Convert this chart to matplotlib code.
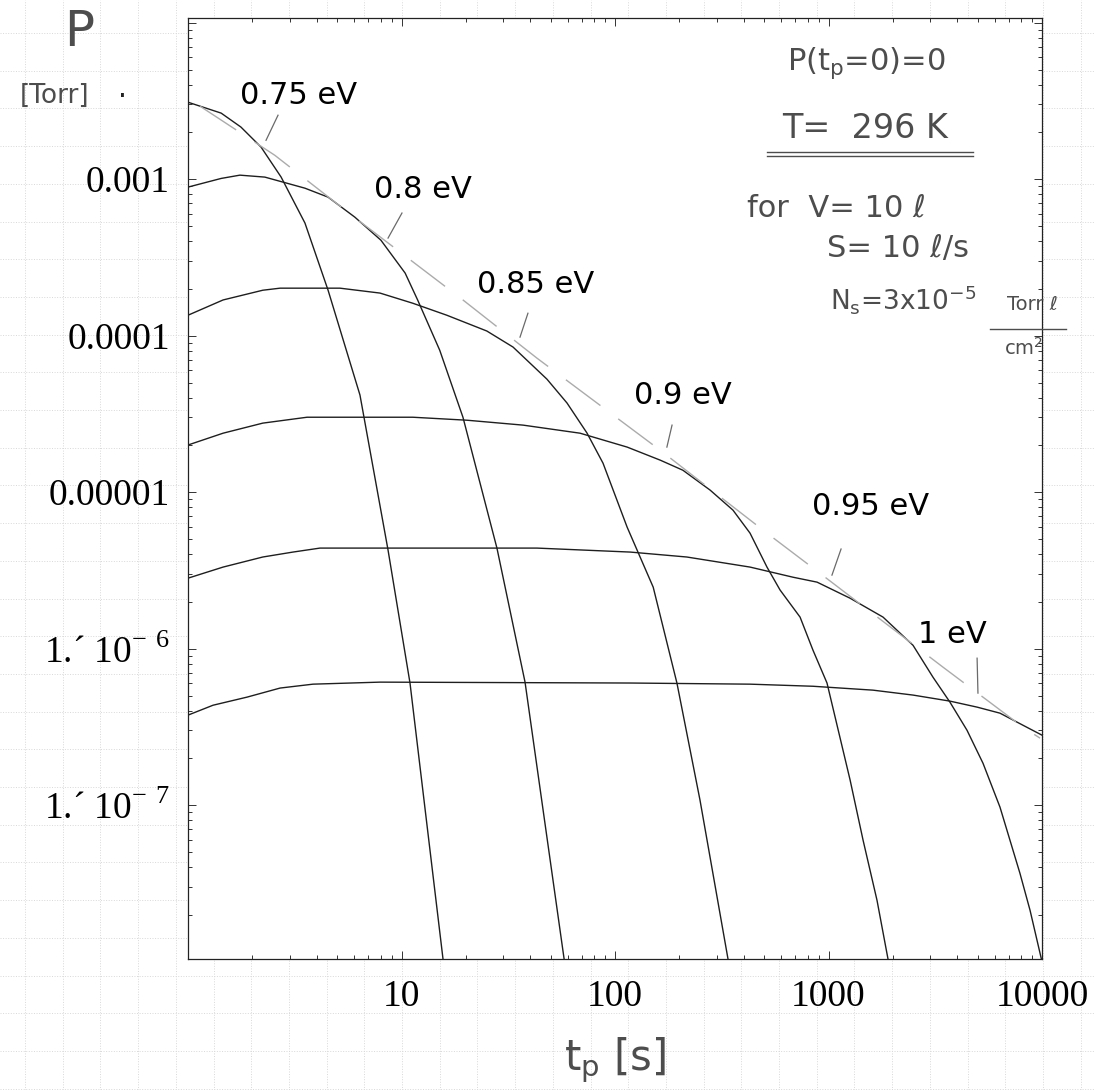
import numpy as np
import matplotlib
matplotlib.use('Agg')
import matplotlib.pyplot as plt
from matplotlib.ticker import FixedLocator, FixedFormatter, LogLocator, NullFormatter

# ------------------------------------------------------------
# data (t_p in s, P in Torr)
# ------------------------------------------------------------
t_075 = [1, 1.43, 1.77, 2.20, 2.73, 3.53, 4.53, 6.39, 8.65, 10.96, 15.7]
p_075 = [3.10e-3, 2.64e-3, 2.15e-3, 1.60e-3, 1.03e-3, 5.24e-4, 1.95e-4, 4.17e-5, 4.26e-6, 6.03e-7, 1.0e-8]

t_080 = [1, 1.43, 1.75, 2.29, 3.53, 4.53, 6.05, 8.01, 10.4, 11.9, 15.1, 19.4, 28.0, 37.9, 58.0]
p_080 = [8.89e-4, 1.01e-3, 1.06e-3, 1.03e-3, 8.75e-4, 7.67e-4, 5.71e-4, 4.07e-4, 2.51e-4,
         1.69e-4, 8.07e-5, 3.01e-5, 4.38e-6, 6.11e-7, 1.0e-8]

t_085 = [1, 1.46, 2.24, 2.70, 5.15, 7.93, 11.3, 16.3, 25.1, 33.3, 48.0, 59.6, 74.0, 87.9,
         114, 151, 195, 250, 340]
p_085 = [1.35e-4, 1.69e-4, 1.95e-4, 2.01e-4, 2.01e-4, 1.87e-4, 1.61e-4, 1.35e-4, 1.07e-4,
         8.45e-5, 5.27e-5, 3.71e-5, 2.38e-5, 1.53e-5, 5.97e-6, 2.47e-6, 6.03e-7, 1.08e-7, 1.0e-8]

t_090 = [1, 1.46, 2.24, 3.61, 11.3, 20.3, 37.1, 68.6, 114, 163, 208, 279, 357, 429, 515,
         593, 736, 846, 984, 1262, 1452, 1687, 1910]
p_090 = [2.00e-5, 2.38e-5, 2.76e-5, 3.01e-5, 3.01e-5, 2.88e-5, 2.68e-5, 2.38e-5, 1.94e-5,
         1.60e-5, 1.38e-5, 1.03e-5, 7.67e-6, 5.47e-6, 3.32e-6, 2.37e-6, 1.59e-6, 9.77e-7,
         6.03e-7, 1.45e-7, 5.97e-8, 2.47e-8, 1.0e-8]

t_095 = [1, 1.46, 2.24, 3.10, 4.15, 43.1, 118, 217, 429, 682, 884, 1262, 1801, 2489, 3086,
         3706, 4454, 5295, 6357, 7883, 8790, 10000]
p_095 = [2.82e-6, 3.32e-6, 3.85e-6, 4.14e-6, 4.39e-6, 4.39e-6, 4.14e-6, 3.85e-6, 3.32e-6,
         2.86e-6, 2.66e-6, 2.10e-6, 1.59e-6, 1.05e-6, 6.57e-7, 4.55e-7, 3.01e-7, 1.85e-7,
         9.71e-8, 3.67e-8, 2.13e-8, 1.0e-8]

t_100 = [1, 1.31, 1.89, 2.70, 3.85, 7.93, 118, 429, 846, 1616, 2489, 3706, 4966, 6357, 8147, 10000]
p_100 = [3.76e-7, 4.35e-7, 4.90e-7, 5.60e-7, 5.93e-7, 6.11e-7, 6.03e-7, 5.93e-7, 5.75e-7,
         5.43e-7, 5.05e-7, 4.62e-7, 4.23e-7, 3.87e-7, 3.24e-7, 2.80e-7]

# grey dashed envelope
t_env = [1.14, 2.55, 6.26, 19.4, 43.1, 163, 515, 912, 3436, 8147, 9790]
p_env = [2.92e-3, 1.42e-3, 5.47e-4, 1.69e-4, 7.18e-5, 1.85e-5, 5.47e-6, 3.03e-6, 7.62e-7, 3.15e-7, 2.68e-7]

curves = [(t_075, p_075), (t_080, p_080), (t_085, p_085), (t_090, p_090), (t_095, p_095), (t_100, p_100)]

# curve labels: text, label centre, pointer start, pointer end
labels = ['0.75 eV', '0.8 eV', '0.85 eV', '0.9 eV', '0.95 eV', '1 eV']
label_t = [3.31, 12.6, 42.7, 208, 1582, 3786]
label_p = [3.44e-3, 8.63e-4, 2.13e-4, 4.17e-5, 8.15e-6, 1.24e-6]
ptr_t0 = [2.64, 10.05, 39.1, 185, 1145, 4966]
ptr_p0 = [2.56e-3, 6.07e-4, 1.39e-4, 2.68e-5, 4.33e-6, 8.69e-7]
ptr_t1 = [2.32, 8.65, 35.9, 175, 1038, 5012]
ptr_p1 = [1.77e-3, 4.20e-4, 9.78e-5, 1.94e-5, 2.95e-6, 5.20e-7]

x_ticks = [1, 10, 100, 1000, 10000]
x_ticklabels = ['', '10', '100', '1000', '10000']
y_ticks = [1e-8, 1e-7, 1e-6, 1e-5, 1e-4, 1e-3, 1e-2]
y_ticklabels = ['', '1.\u00b4 10$^{\\mathregular{-\\ 7}}$', '1.\u00b4 10$^{\\mathregular{-\\ 6}}$',
                '0.00001', '0.0001', '0.001', '']

W, H = 1094, 1090
fig = plt.figure(figsize=(W / 100, H / 100), dpi=100)
fig.patch.set_facecolor('white')

# graph paper behind the print
bg = fig.add_axes([0, 0, 1, 1], zorder=-1)
bg.set_xlim(0, W)
bg.set_ylim(H, 0)
bg.axis('off')
for gx in np.arange(25, W, 37.7):
    bg.axvline(gx, color='#d8d8d8', lw=0.7, ls=':')
for gy in np.arange(33, H, 37.7):
    bg.axhline(gy, color='#d8d8d8', lw=0.7, ls=':')

ax = fig.add_axes([188 / W, (H - 959) / H, 854 / W, (959 - 18) / H])
ax.set_facecolor('white')
ax.set_xscale('log')
ax.set_yscale('log')
ax.set_xlim(1, 1e4)
ax.set_ylim(1.04e-8, 1.07e-2)

for t, p in curves:
    ax.plot(t, p, color='#1e1e1e', lw=1.0)

ax.plot(t_env, p_env, color='#ababab', lw=1.0, ls=(0, (31, 16)))

for i, lab in enumerate(labels):
    ax.text(label_t[i], label_p[i], lab, fontsize=22, family='DejaVu Sans',
            ha='center', va='center', color='black')
    ax.plot([ptr_t0[i], ptr_t1[i]], [ptr_p0[i], ptr_p1[i]], color='#6a6a6a', lw=0.9)

ax.xaxis.set_major_locator(FixedLocator(x_ticks))
ax.xaxis.set_major_formatter(FixedFormatter(x_ticklabels))
ax.yaxis.set_major_locator(FixedLocator(y_ticks))
ax.yaxis.set_major_formatter(FixedFormatter(y_ticklabels))
ax.xaxis.set_minor_locator(LogLocator(base=10, subs=np.arange(2, 10)))
ax.yaxis.set_minor_locator(LogLocator(base=10, subs=np.arange(2, 10)))
ax.xaxis.set_minor_formatter(NullFormatter())
ax.yaxis.set_minor_formatter(NullFormatter())
ax.tick_params(which='both', direction='in', top=True, right=True, width=0.7, color='#333333')
ax.tick_params(which='major', length=5.5)
ax.tick_params(which='minor', length=3)
ax.tick_params(axis='x', which='major', pad=15)
ax.tick_params(axis='y', which='major', pad=13)
for lab in ax.get_xticklabels() + ax.get_yticklabels():
    lab.set_family('Liberation Serif')
    lab.set_fontsize(27)
for sp in ax.spines.values():
    sp.set_linewidth(0.9)
    sp.set_color('#222222')

# handwritten notes (as plain text)
hand = dict(family='DejaVu Sans', color='#4d4d4d')

def ftext(px, py, s, **kw):
    fig.text(px / W, 1 - py / H, s, **kw)

ftext(79, 32, 'P', fontsize=36, ha='center', va='center', **hand)
ftext(55, 96, '[Torr]', fontsize=19, ha='center', va='center', **hand)
ftext(122, 97, '\u00b7', fontsize=20, ha='center', va='center', color='#222222')
ftext(615, 1060, 't$_\\mathregular{p}$ [s]', fontsize=30, ha='center', va='center', **hand)

ftext(866, 63, 'P(t$_\\mathregular{p}$=0)=0', fontsize=22, ha='center', va='center', **hand)
ftext(865, 128, 'T=  296 K', fontsize=24, ha='center', va='center', **hand)
fig.add_artist(plt.Line2D([767 / W, 973 / W], [1 - 152 / H, 1 - 152 / H], color='#4d4d4d', lw=1))
fig.add_artist(plt.Line2D([767 / W, 973 / W], [1 - 156 / H, 1 - 156 / H], color='#4d4d4d', lw=1))
ftext(747, 208, 'for  V= 10 \u2113', fontsize=22, ha='left', va='center', **hand)
ftext(827, 248, 'S= 10 \u2113/s', fontsize=22, ha='left', va='center', **hand)
ftext(830, 300, 'N$_\\mathregular{s}$=3x10$^{\\mathregular{-5}}$', fontsize=19, ha='left', va='center', **hand)
ftext(1032, 305, 'Torr \u2113', fontsize=14, ha='center', va='center', **hand)
fig.add_artist(plt.Line2D([990 / W, 1066 / W], [1 - 329 / H, 1 - 329 / H], color='#4d4d4d', lw=1))
ftext(1024, 348, 'cm$^{\\mathregular{2}}$', fontsize=14, ha='center', va='center', **hand)

fig.savefig('out.png', dpi=100, facecolor='white')
